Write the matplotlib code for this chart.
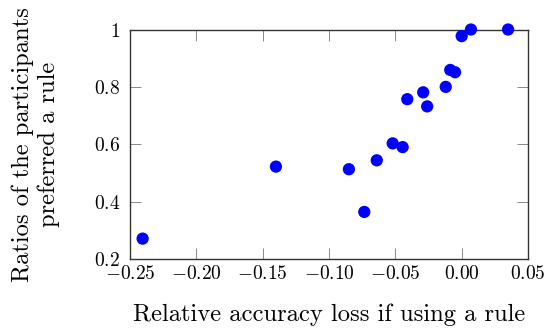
import matplotlib
matplotlib.use("Agg")
import matplotlib.pyplot as plt

plt.rcParams['font.family'] = 'serif'
plt.rcParams['font.serif'] = ['cmr10']
plt.rcParams['mathtext.fontset'] = 'cm'
plt.rcParams['axes.unicode_minus'] = False

# relative accuracy loss vs. share of participants preferring the rule
acc_loss = [0.007, 0.000, 0.035, -0.0086, -0.005, -0.012, -0.029, -0.041,
            -0.026, -0.052, -0.0445, -0.064, -0.085, -0.140, -0.0734, -0.2405]
pref_ratio = [1.0, 0.977, 1.0, 0.859, 0.851, 0.80, 0.781, 0.757,
              0.732, 0.603, 0.590, 0.544, 0.513, 0.522, 0.364, 0.271]

xticks = [-0.25, -0.20, -0.15, -0.10, -0.05, 0.00, 0.05]
yticks = [0.2, 0.4, 0.6, 0.8, 1.0]

fig = plt.figure(figsize=(5.5, 3.3), dpi=100)
ax = fig.add_axes([0.2364, 0.2152, 0.96 - 0.2364, 0.9106 - 0.2152])

ax.scatter(acc_loss, pref_ratio, s=78, color=(0, 0, 1), edgecolors='none',
           zorder=3, clip_on=False)

ax.set_xlim(-0.25, 0.05)
ax.set_ylim(0.2, 1.0)
ax.set_xticks(xticks)
ax.set_xticklabels(['$%.2f$' % t if t != 0 else '$0.00$' for t in xticks])
ax.set_yticks(yticks)
ax.set_yticklabels(['$%g$' % t for t in yticks])

ax.tick_params(direction='in', length=7.8, width=0.6, color='#777777',
               top=True, right=True, labelsize=14)
ax.tick_params(axis='x', pad=4)
ax.tick_params(axis='y', pad=7)
for sp in ax.spines.values():
    sp.set_linewidth(1.0)
    sp.set_color('#333333')

ax.set_xlabel('Relative accuracy loss if using a rule', fontsize=17.7)
ax.set_ylabel('Ratios of the participants\npreferred a rule', fontsize=17.7,
              linespacing=1.2)
ax.xaxis.set_label_coords(0.5, -0.245)
ax.yaxis.set_label_coords(-0.236, 0.5)
ax.yaxis.label.set_va('center')
ax.xaxis.label.set_va('center')

fig.savefig('out.png', dpi=100)
